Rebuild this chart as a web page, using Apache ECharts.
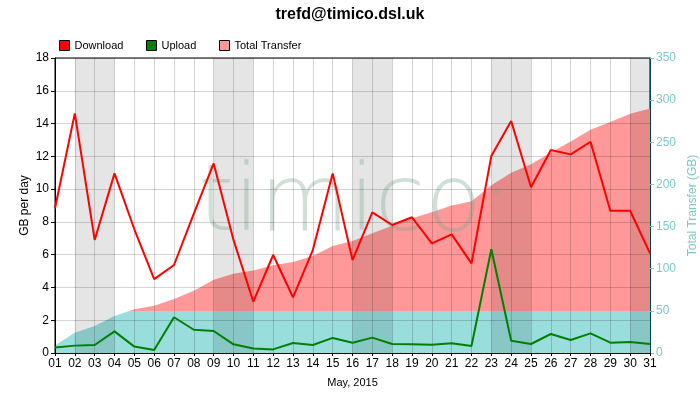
<!DOCTYPE html>
<html><head><meta charset="utf-8">
<script src="https://cdn.jsdelivr.net/npm/echarts@6/dist/echarts.min.js"></script>
<style>html,body{margin:0;padding:0;background:#fff}#c{width:700px;height:400px}</style>
</head><body><div id="c"></div>
<script>
const days = ['01','02','03','04','05','06','07','08','09','10','11','12','13','14','15','16','17','18','19','20','21','22','23','24','25','26','27','28','29','30','31'];
const download = [8.83,14.62,6.9,10.96,7.55,4.51,5.37,8.5,11.57,6.9,3.13,5.98,3.4,6.28,10.96,5.67,8.58,7.81,8.28,6.69,7.24,5.47,12.02,14.16,10.11,12.39,12.12,12.89,8.68,8.68,6.08];
const upload = [0.33,0.45,0.49,1.32,0.39,0.18,2.18,1.42,1.34,0.53,0.28,0.22,0.61,0.49,0.92,0.63,0.94,0.55,0.53,0.51,0.59,0.43,6.33,0.75,0.55,1.16,0.79,1.20,0.63,0.67,0.55];
const totalTransfer = [9,24,32,44,52,56,64,74,87,94,98,104,108,115,127,133,142,151,160,167,175,180,199,214,224,238,251,265,274,284,290];
const capGB = 50;
const weekendBands = [['02','04'],['09','11'],['16','18'],['23','25'],['30','31']];

const chart = echarts.init(document.getElementById('c'));
const font = 'Liberation Sans, Arial, sans-serif';
const teal = '#7fc8c8';
const legendBase = {top: 40, padding: 0, itemWidth: 10, itemHeight: 10, textStyle: {fontSize: 11, color: '#000', fontFamily: font}};
chart.setOption({
  animation: false,
  textStyle: {fontFamily: font},
  title: {text: 'trefd@timico.dsl.uk', left: 'center', top: 2,
    textStyle: {fontSize: 16, fontWeight: 'bold', color: '#000', fontFamily: font}},
  legend: [
    Object.assign({left: 59, data: [{name: 'Download', icon: 'rect', itemStyle: {color: '#ff0000', borderColor: '#000', borderWidth: 1}}]}, legendBase),
    Object.assign({left: 146, data: [{name: 'Upload', icon: 'rect', itemStyle: {color: '#008000', borderColor: '#000', borderWidth: 1}}]}, legendBase),
    Object.assign({left: 219, data: [{name: 'Total Transfer', icon: 'rect', itemStyle: {color: '#ff9999', borderColor: '#000', borderWidth: 1}}]}, legendBase)
  ],
  grid: {left: 55, right: 50, top: 58, bottom: 47, show: true, borderColor: '#000', borderWidth: 1,
    backgroundColor: 'transparent', containLabel: false, outerBoundsMode: 'none'},
  visualMap: {show: false, type: 'piecewise', seriesIndex: 0, dimension: 1,
    pieces: [{gte: 0, lte: capGB, color: '#99dddd'}, {gt: capGB, lte: 100000, color: '#ff9999'}]},
  xAxis: {type: 'category', data: days, boundaryGap: false, z: 4,
    name: 'May, 2015', nameLocation: 'middle', nameGap: 24, nameTextStyle: {fontSize: 11, color: '#000'},
    axisLine: {lineStyle: {color: '#000', width: 1}},
    axisTick: {show: true, length: 3, lineStyle: {color: '#000'}},
    axisLabel: {fontSize: 12, color: '#000', margin: 5, interval: 0},
    splitLine: {show: true, lineStyle: {color: 'rgba(0,0,0,0.17)', width: 1}}},
  yAxis: [
    {type: 'value', min: 0, max: 18, interval: 2, z: 4,
     name: 'GB per day', nameLocation: 'middle', nameGap: 24, nameMoveOverlap: false, nameTextStyle: {fontSize: 12, color: '#000'},
     axisLine: {show: true, lineStyle: {color: '#000'}},
     axisTick: {show: true, length: 4, lineStyle: {color: '#000'}},
     axisLabel: {fontSize: 12, color: '#000', margin: 6},
     splitLine: {show: true, lineStyle: {color: 'rgba(0,0,0,0.17)', width: 1}}},
    {type: 'value', min: 0, max: 350, interval: 50, position: 'right', z: 4,
     name: 'Total Transfer (GB)', nameLocation: 'middle', nameGap: 37, nameMoveOverlap: false, nameTextStyle: {fontSize: 12, color: teal},
     axisLine: {show: true, lineStyle: {color: '#004444'}},
     axisTick: {show: true, length: 4, lineStyle: {color: teal}},
     axisLabel: {fontSize: 12, color: teal, margin: 6},
     splitLine: {show: false}}
  ],
  graphic: [{type: 'text', left: 198, top: 160, z: 4,
    style: {text: 'timico', font: '200 92px "DejaVu Sans", sans-serif', fill: 'rgba(120,165,140,0.35)'}},
    {type: 'text', left: 492, top: 187, z: 4,
    style: {text: '®', font: '11px "DejaVu Sans", sans-serif', fill: 'rgba(120,165,140,0.35)'}}],
  series: [
    {name: 'Total Transfer', type: 'line', yAxisIndex: 1, data: totalTransfer, z: 1, showSymbol: false,
     itemStyle: {color: '#ff9999'}, lineStyle: {width: 0, opacity: 0}, areaStyle: {opacity: 1},
     markArea: {silent: true, z: 3, itemStyle: {color: 'rgba(0,0,0,0.1)'},
       data: weekendBands.map(b => [{xAxis: b[0]}, {xAxis: b[1]}])}},
    {name: 'Download', type: 'line', data: download, z: 5, showSymbol: false,
     itemStyle: {color: '#ff0000'}, lineStyle: {color: '#ff0000', width: 2}},
    {name: 'Upload', type: 'line', data: upload, z: 5, showSymbol: false,
     itemStyle: {color: '#008000'}, lineStyle: {color: '#008000', width: 2}}
  ]
});
</script></body></html>
